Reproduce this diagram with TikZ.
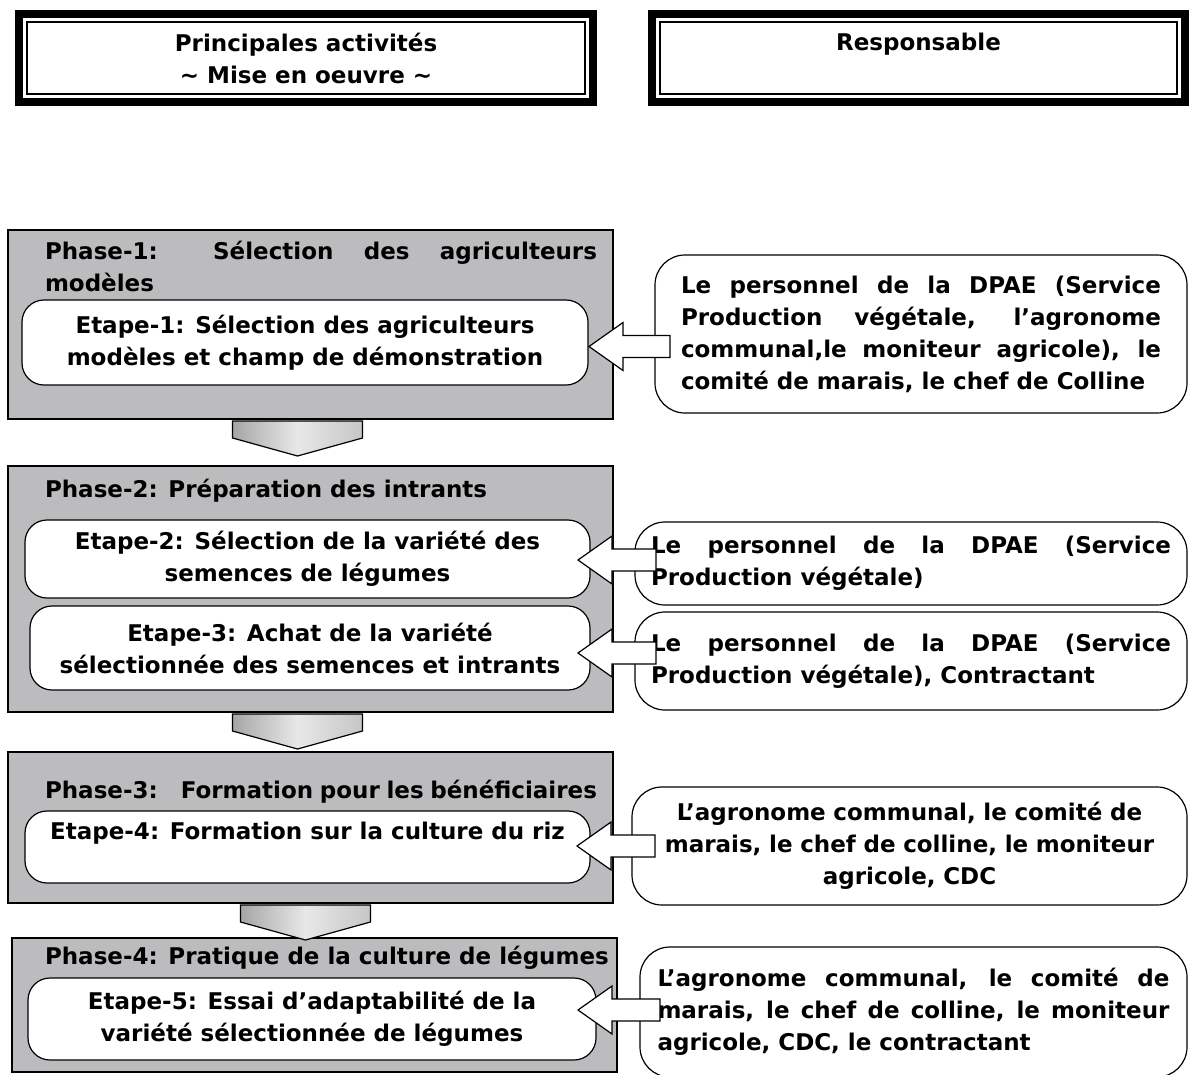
\documentclass[tikz,border=0pt]{standalone}
\usepackage{fontspec}
\setmainfont{DejaVu Sans}
\usetikzlibrary{positioning}
\definecolor{phasegray}{RGB}{188,188,190}
\hyphenpenalty=10000
\exhyphenpenalty=10000

\begin{document}
\begin{tikzpicture}[x=1pt, y=-1pt,
    every node/.style = {font=\fontsize{23}{32}\selectfont\bfseries, inner sep=0pt, outer sep=0pt},
    hdr/.style = {draw, line width=8pt, minimum height=88pt, anchor=north west, align=center},
    phase/.style = {draw, line width=2pt, fill=phasegray, anchor=north west},
    ptitle/.style = {anchor=base west, text width=552pt, align=justify},
    etape/.style = {draw, line width=1.2pt, fill=white, rounded corners=22pt, anchor=north west, align=center},
    resp/.style = {draw, line width=1.2pt, fill=white, rounded corners=30pt, anchor=north west},
    barrow/.style = {draw, line width=1.2pt, fill=white, line join=miter},
    darrow/.style = {draw, line width=1.2pt, left color=gray!70, right color=gray!45, middle color=gray!18}]

    \useasboundingbox (0,0) rectangle (1189,1074);
    \clip (0,0) rectangle (1189,1074);

    \node[hdr, minimum width=574pt] (hAct) at (19,14) {Principales activités\\\textasciitilde{} Mise en oeuvre \textasciitilde};
    \node[hdr, minimum width=533pt] (hResp) at (652,14) {Responsable\\\mbox{}};
    \foreach \h in {hAct, hResp}
        \draw[line width=1.5pt] ([shift={(8,8)}]\h.north west) rectangle ([shift={(-8,-8)}]\h.south east);

    \node[phase, minimum width=605pt, minimum height=189pt] (p1) at (8,230) {};
    \node[phase, minimum width=605pt, minimum height=246pt] (p2) at (8,466) {};
    \node[phase, minimum width=605pt, minimum height=151pt] (p3) at (8,752) {};
    \node[phase, minimum width=605pt, minimum height=134pt] (p4) at (12,938) {};

    \node[ptitle] (t1) at (45,259) {Phase-1: Sélection des agriculteurs\linebreak modèles};
    \node[ptitle] (t2) at (45,497) {Phase-2: Préparation des intrants};
    \node[ptitle] (t3) at (45,798) {Phase-3:\quad Formation pour les bénéficiaires};
    \node[ptitle, text width=565pt] (t4) at (45,964) {Phase-4: Pratique de la culture de légumes};

    \node[etape, minimum width=566pt, minimum height=85pt] (e1) at (22,300) {Etape-1: Sélection des agriculteurs\\modèles et champ de démonstration};
    \node[etape, minimum width=565pt, minimum height=78pt] (e2) at (25,520) {Etape-2: Sélection de la variété des\\semences de légumes};
    \node[etape, minimum width=560pt, minimum height=84pt] (e3) at (30,606) {Etape-3: Achat de la variété\\sélectionnée des semences et intrants};
    \node[etape, minimum width=565pt, minimum height=72pt] (e4) at (25,811) {Etape-4: Formation sur la culture du riz\\\mbox{}};
    \node[etape, minimum width=568pt, minimum height=82pt] (e5) at (28,978) {Etape-5: Essai d’adaptabilité de la\\variété sélectionnée de légumes};

    \node[resp, text width=480pt, align=justify, minimum width=532pt, minimum height=158pt] (r1) at (655,255) {Le personnel de la DPAE (Service\linebreak Production végétale, l’agronome\linebreak communal,le moniteur agricole), le\linebreak comité de marais, le chef de Colline};
    \node[resp, text width=520pt, align=justify, minimum width=552pt, minimum height=83pt] (r2) at (635,522) {Le personnel de la DPAE (Service\linebreak Production végétale)};
    \node[resp, text width=520pt, align=justify, minimum width=552pt, minimum height=98pt] (r3) at (635,612) {Le personnel de la DPAE (Service\linebreak Production végétale), Contractant};
    \node[resp, text width=520pt, align=center, minimum width=555pt, minimum height=118pt] (r4) at (632,787) {L’agronome communal, le comité de\\marais, le chef de colline, le moniteur\\agricole, CDC};
    \node[resp, text width=512pt, align=justify, minimum width=547pt, minimum height=130pt] (r5) at (640,947) {L’agronome communal, le comité de\linebreak marais, le chef de colline, le moniteur\linebreak agricole, CDC, le contractant};

    \foreach \e/\dx/\dy/\len in {e1/1/4/47, e2/-12/1/44, e3/-12/5/44, e4/-13/-1/44, e5/-18/-9/48}
        \draw[barrow] ([shift={(\dx,\dy)}]\e.east) -- ++(34,-24) -- ++(0,13) -- ++(\len,0) -- ++(0,22) -- ++(-\len,0) -- ++(0,13) -- cycle;

    \foreach \p/\dx in {p1/-78, p2/-78, p3/-70}
        \draw[darrow] ([shift={(\dx,2)}]\p.south) -- ++(130,0) -- ++(0,17) -- ++(-65,18) -- ++(-65,-18) -- cycle;

\end{tikzpicture}
\end{document}
